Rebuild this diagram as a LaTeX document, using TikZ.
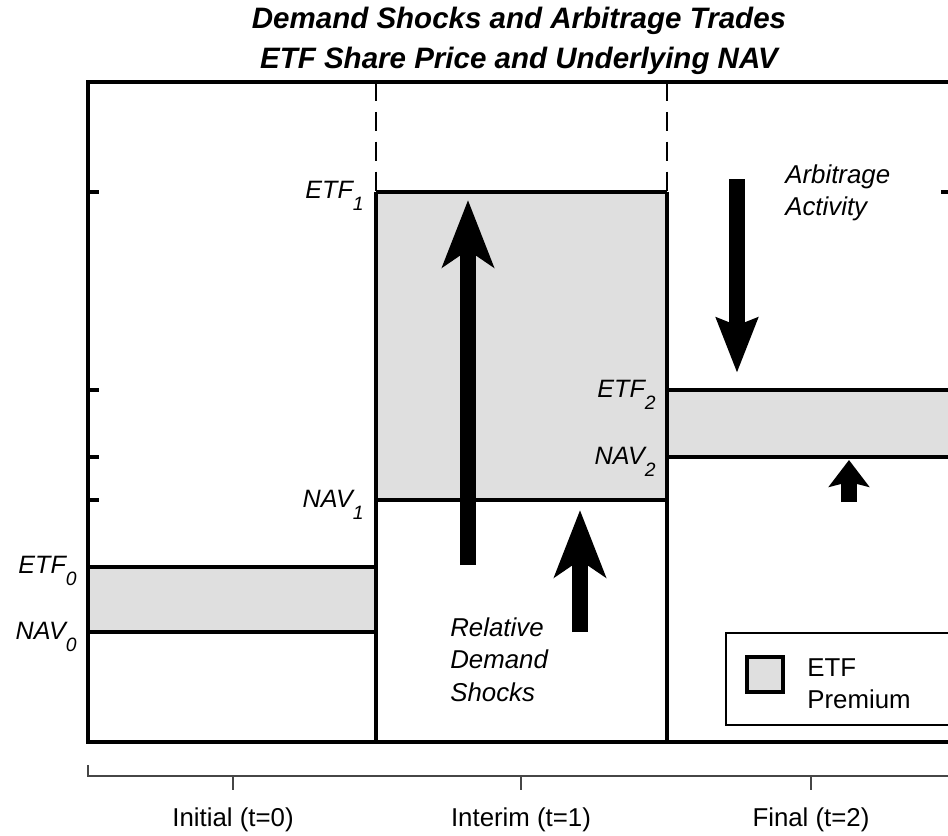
\documentclass[tikz,border=0pt]{standalone}
\usepackage{fontspec}
\setmainfont{Liberation Sans}
\usepackage{xcolor}
\definecolor{premgray}{RGB}{223,223,223}
\definecolor{axisgray}{RGB}{70,70,70}
\usetikzlibrary{arrows.meta}

% lowered index for the price labels
\newcommand{\lvlsub}[1]{\raisebox{-7pt}{\fontsize{11}{11}\selectfont #1}}

\begin{document}
\begin{tikzpicture}[
    x=0.02cm, y=-0.02cm,
    band/.style={fill=premgray},
    level/.style={line width=1.8pt},
    divider/.style={line width=1.1pt, dash pattern=on 10.8pt off 6.2pt},
    tickmark/.style={line width=1.8pt},
    timeaxis/.style={line width=0.75pt, draw=axisgray},
    lvl/.style={font=\fontsize{14.3}{16}\selectfont\itshape, anchor=base east, inner sep=0pt},
    note/.style={font=\fontsize{14.7}{18.7}\selectfont\itshape, align=left, anchor=north west, inner sep=0pt},
    stagelbl/.style={font=\fontsize{14.7}{18.7}\selectfont, anchor=base, inner sep=0pt},
    shock/.style={line width=9pt, -{Stealth[length=38pt, width=29pt, inset=9.5pt]}},
    arb/.style={line width=9pt, -{Stealth[length=31pt, width=23pt, inset=4pt]}},
    arbsmall/.style={line width=9pt, -{Stealth[length=15.3pt, width=23pt, inset=2.8pt]}}
]
\useasboundingbox (0,0) rectangle (948,836);

% Titulo
\node[font=\fontsize{16.8}{22.7}\selectfont\bfseries\itshape, align=center, anchor=north, inner sep=0pt]
    (title) at (519,7) {Demand Shocks and Arbitrage Trades\\ETF Share Price and Underlying NAV};

% Bandas de prima (ETF sobre NAV)
\fill[band] (88,567) rectangle (376,632);
\fill[band] (376,192) rectangle (667,500);
\fill[band] (667,390) rectangle (948,457);

% Marco del grafico
\draw[level, line join=miter] (948,82) -- (88,82) -- (88,742) -- (948,742);

% Separadores entre periodos
\draw[divider] (376,82) -- (376,192);
\draw[divider] (667,82) -- (667,192);
\draw[level] (376,192) -- (376,742);
\draw[level] (667,192) -- (667,742);

% Niveles de precio
\draw[level] (88,567) -- (376,567);
\draw[level] (88,632) -- (376,632);
\draw[level] (376,192) -- (667,192);
\draw[level] (376,500) -- (667,500);
\draw[level] (667,390) -- (948,390);
\draw[level] (667,457) -- (948,457);

% Marcas del eje vertical
\foreach \y in {192,390,457,500,567,632} {
    \draw[tickmark] (88,\y) -- (99,\y);
}
\draw[tickmark] (941,192) -- (948,192);

% Etiquetas de precio
\node[lvl] (etf0) at (77,573) {ETF\lvlsub{0}};
\node[lvl] (nav0) at (77,639) {NAV\lvlsub{0}};
\node[lvl] (etf1) at (364,198) {ETF\lvlsub{1}};
\node[lvl] (nav1) at (364,507) {NAV\lvlsub{1}};
\node[lvl] (etf2) at (656,397) {ETF\lvlsub{2}};
\node[lvl] (nav2) at (656,464) {NAV\lvlsub{2}};

% Flechas de shocks y arbitraje
\coordinate (shock-a-tail) at (468,565);
\coordinate (shock-a-tip) at (468,200);
\coordinate (shock-b-tail) at (580,632);
\coordinate (shock-b-tip) at (580,510);
\coordinate (arb-a-tail) at (737,179);
\coordinate (arb-a-tip) at (737,373);
\coordinate (arb-b-tail) at (849,502);
\coordinate (arb-b-tip) at (849,460);

\draw[shock] (shock-a-tail) -- (shock-a-tip);
\draw[shock] (shock-b-tail) -- (shock-b-tip);
\draw[arb] (arb-a-tail) -- (arb-a-tip);
\draw[arbsmall] (arb-b-tail) -- (arb-b-tip);

\node[note] (arbtext) at (785,164) {Arbitrage\\Activity};
\node[note] (shocktext) at (450,617) {Relative\\Demand\\Shocks};

% Leyenda
\draw[line width=0.6pt] (948,633) -- (726,633) -- (726,725) -- (948,725);
\draw[band, line width=1.8pt] (747,657) rectangle (783,692);
\node[note, font=\fontsize{14.7}{18.7}\selectfont] (legendtext) at (807,658) {ETF\\Premium};

% Eje de tiempo
\draw[timeaxis] (88,765) -- (88,776) -- (948,776);
\foreach \x/\stage [count=\i from 0] in {233/Initial, 521/Interim, 811/Final} {
    \draw[timeaxis] (\x,776) -- (\x,790);
    \node[stagelbl] (stage\i) at (\x,826) {\stage\ (t=\i)};
}

\end{tikzpicture}
\end{document}
